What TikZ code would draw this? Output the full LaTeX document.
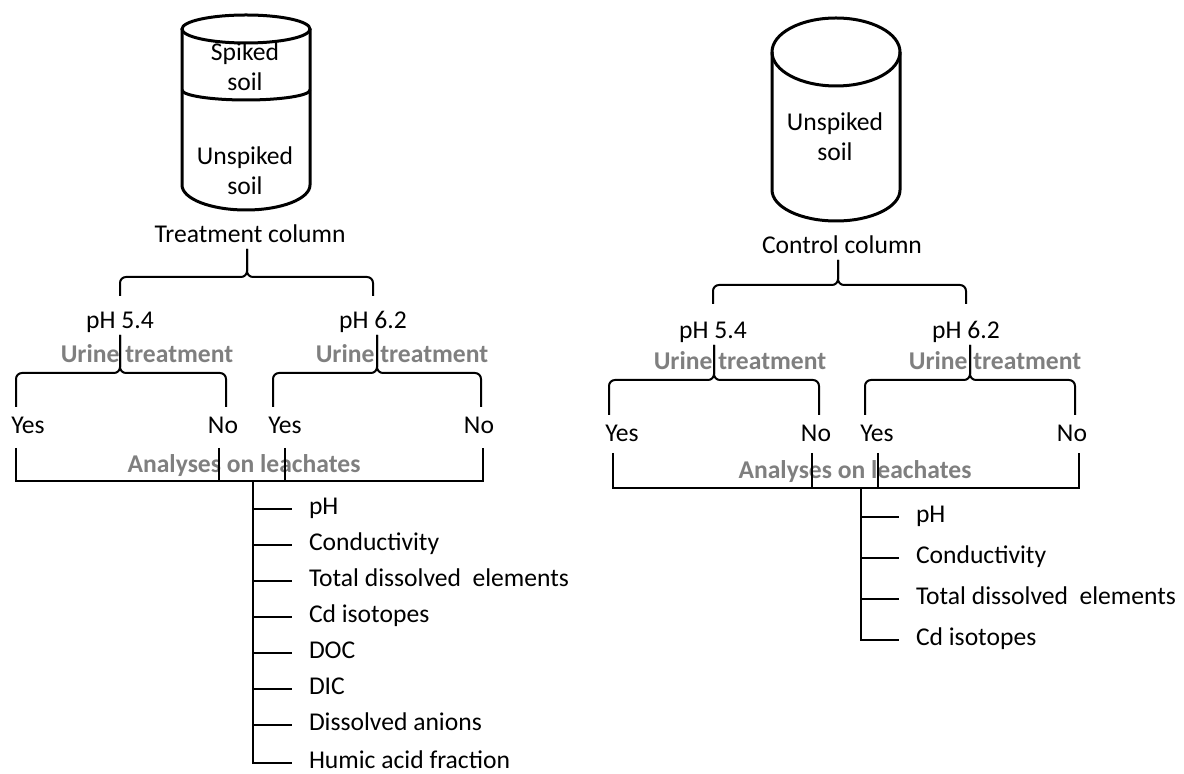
\documentclass[tikz,border=0pt]{standalone}
\usepackage{fontspec}
\setmainfont{Carlito}
\usetikzlibrary{positioning}
\definecolor{labelgray}{RGB}{127,127,127}

\begin{document}
\begin{tikzpicture}[x=0.5pt,y=-0.5pt,line width=1pt,
                    font=\fontsize{12.8}{15}\selectfont]
  \tikzstyle{every node}=[inner sep=0pt,text height=8.5pt,text depth=2.5pt]
  \tikzstyle{soil}=[align=center,text height={},text depth={}]
  \tikzstyle{grey}=[font=\fontsize{12.8}{15}\selectfont\bfseries,text=labelgray]
  \tikzstyle{cyl}=[line width=1.5pt]
  \tikzstyle{brace}=[rounded corners=3pt]
  \tikzstyle{tick}=[shorten >=8pt]

  \useasboundingbox (0,0) rectangle (1184,774);

  % treatment column
  \draw[cyl] (246,29) ellipse (32pt and 7pt);
  \draw[cyl] (182,29) -- (182,185) arc (180:360:32pt and 12.5pt) -- (310,29);
  \draw[cyl] (182,90) arc (180:360:32pt and 5pt);
  \node[soil] (spk)  at (245,67)  {Spiked\\soil};
  \node[soil] (uns1) at (245,171) {Unspiked\\soil};
  \node (tc) at (250,237) {Treatment column};

  \node (pa1) at (120,323) {pH 5.4};
  \node (pb1) at (373,323) {pH 6.2};
  \node[grey] (ua1) at (147,357) {Urine treatment};
  \node[grey] (ub1) at (402,357) {Urine treatment};
  \node (ya1) at (28,428)  {Yes};
  \node (na1) at (223,428) {No};
  \node (yb1) at (285,428) {Yes};
  \node (nb1) at (479,428) {No};
  \node[grey] (al1) at (244,467) {Analyses on leachates};

  \node[anchor=west] (lph) at (308,509) {pH};
  \node (lcon) [below=18pt of lph.west,anchor=west]  {Conductivity};
  \node (ltot) [below=18pt of lcon.west,anchor=west] {Total dissolved\ \ elements};
  \node (lcd)  [below=18pt of ltot.west,anchor=west] {Cd isotopes};
  \node (ldoc) [below=18pt of lcd.west,anchor=west]  {DOC};
  \node (ldic) [below=18pt of ldoc.west,anchor=west] {DIC};
  \node (ldan) [below=18pt of ldic.west,anchor=west] {Dissolved anions};
  \node (lhum) [below=19pt of ldan.west,anchor=west] {Humic acid fraction};

  \coordinate (ta1) at (247,277);
  \draw[brace] ([yshift=7.5pt]pa1.north) |- (ta1) -- (ta1 |- tc.south);
  \draw[brace] ([yshift=7.5pt]pb1.north) |- (ta1) -- (ta1 |- tc.south);

  \coordinate (ta2) at (120,373);
  \coordinate (ea1) at (16,407);
  \coordinate (ea2) at (226,407);
  \draw[brace] (ea1) |- (ta2) -- (ta2 |- pa1.south);
  \draw[brace] (ea2) |- (ta2) -- (ta2 |- pa1.south);
  \coordinate (tb2) at (377,373);
  \coordinate (eb1) at (273,407);
  \coordinate (eb2) at (481,407);
  \draw[brace] (eb1) |- (tb2) -- (tb2 |- pb1.south);
  \draw[brace] (eb2) |- (tb2) -- (tb2 |- pb1.south);

  \coordinate (lk1) at (16,448);
  \coordinate (lk2) at (219,448);
  \coordinate (lk3) at (285,448);
  \coordinate (lk4) at (483,448);
  \coordinate (ls) at (253,481);
  \draw (lk1) |- (lk4 |- ls) -- (lk4);
  \draw (lk2) -- (lk2 |- ls);
  \draw (lk3) -- (lk3 |- ls);
  \draw[tick] (ls) |- (lhum.west);
  \foreach \n in {lph,lcon,ltot,lcd,ldoc,ldic,ldan}
    \draw[tick] (ls |- \n.west) -- (\n.west);

  % control column
  \draw[cyl] (836,52) ellipse (32pt and 17pt);
  \draw[cyl] (772,52) -- (772,190) arc (180:360:32pt and 15.5pt) -- (900,52);
  \node[soil] (uns2) at (835,137) {Unspiked\\soil};
  \node (cc) at (842,248) {Control column};

  \node (pa2) at (713,333) {pH 5.4};
  \node (pb2) at (966,333) {pH 6.2};
  \node[grey] (ua2) at (740,364) {Urine treatment};
  \node[grey] (ub2) at (995,364) {Urine treatment};
  \node (ya2) at (622,436)  {Yes};
  \node (na2) at (816,436)  {No};
  \node (yb2) at (877,436)  {Yes};
  \node (nb2) at (1072,436) {No};
  \node[grey] (al2) at (855,473) {Analyses on leachates};

  \node[anchor=west] (rph) at (915,517) {pH};
  \node (rcon) [below=20.5pt of rph.west,anchor=west]  {Conductivity};
  \node (rtot) [below=20.5pt of rcon.west,anchor=west] {Total dissolved\ \ elements};
  \node (rcd)  [below=20.5pt of rtot.west,anchor=west] {Cd isotopes};

  \coordinate (tc1) at (838,285);
  \draw[brace] ([yshift=8.5pt]pa2.north) |- (tc1) -- (tc1 |- cc.south);
  \draw[brace] ([yshift=8.5pt]pb2.north) |- (tc1) -- (tc1 |- cc.south);

  \coordinate (tc2) at (714,380);
  \coordinate (ec1) at (609,415);
  \coordinate (ec2) at (819,415);
  \draw[brace] (ec1) |- (tc2) -- (tc2 |- pa2.south);
  \draw[brace] (ec2) |- (tc2) -- (tc2 |- pa2.south);
  \coordinate (td2) at (970,380);
  \coordinate (ed1) at (865,415);
  \coordinate (ed2) at (1075,415);
  \draw[brace] (ed1) |- (td2) -- (td2 |- pb2.south);
  \draw[brace] (ed2) |- (td2) -- (td2 |- pb2.south);

  \coordinate (rk1) at (613,453);
  \coordinate (rk2) at (812,453);
  \coordinate (rk3) at (878,453);
  \coordinate (rk4) at (1079,453);
  \coordinate (rs) at (861,488);
  \draw (rk1) |- (rk4 |- rs) -- (rk4);
  \draw (rk2) -- (rk2 |- rs);
  \draw (rk3) -- (rk3 |- rs);
  \draw[tick] (rs) |- (rcd.west);
  \foreach \n in {rph,rcon,rtot}
    \draw[tick] (rs |- \n.west) -- (\n.west);
\end{tikzpicture}
\end{document}
